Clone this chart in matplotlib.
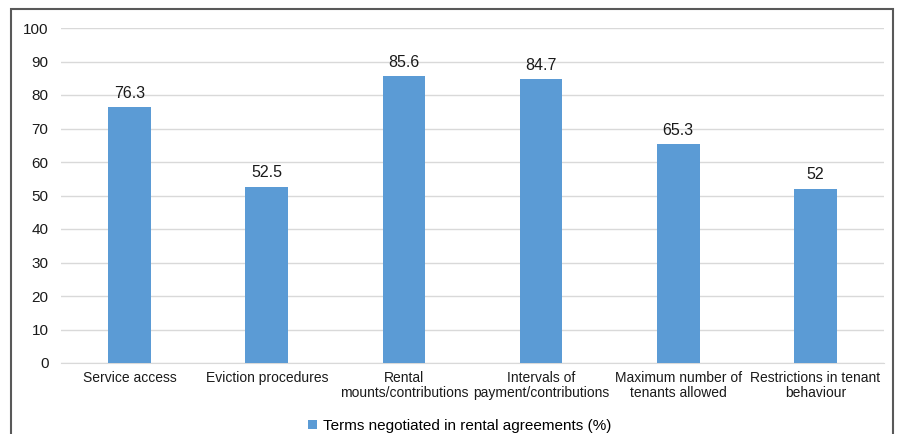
import matplotlib.pyplot as plt
from matplotlib.patches import Rectangle

plt.rcParams['font.family'] = ['Liberation Sans', 'DejaVu Sans']

categories = ['Service access', 'Eviction procedures', 'Rental\nmounts/contributions',
              'Intervals of\npayment/contributions', 'Maximum number of\ntenants allowed',
              'Restrictions in tenant\nbehaviour']
values = [76.3, 52.5, 85.6, 84.7, 65.3, 52]
labels = ['76.3', '52.5', '85.6', '84.7', '65.3', '52']
series_name = 'Terms negotiated in rental agreements (%)'

fig = plt.figure(figsize=(9.01, 4.34), dpi=100)
ax = fig.add_axes([61/901, 1-363/434, (884-61)/901, (363-28)/434])

x = range(len(categories))
bars = ax.bar(x, values, width=0.31, color='#5b9bd5', label=series_name, zorder=3)
for b, t in zip(bars, labels):
    ax.text(b.get_x() + b.get_width()/2, b.get_height() + 2, t,
            ha='center', va='bottom', fontsize=11.5, color='#1a1a1a')

ax.set_xlim(-0.5, len(categories) - 0.5)
ax.set_ylim(0, 100)
ax.set_yticks(range(0, 101, 10))
ax.set_xticks(list(x))
ax.set_xticklabels(categories, fontsize=10, color='#1a1a1a', linespacing=1.1)
ax.tick_params(axis='y', labelsize=11, colors='#1a1a1a', length=0, pad=9)
ax.tick_params(axis='x', length=0, pad=6)
ax.grid(axis='y', color='#d9d9d9', linewidth=1, zorder=0)
for s in ['top', 'right', 'left']:
    ax.spines[s].set_visible(False)
ax.spines['bottom'].set_color('#d9d9d9')

fig.legend(loc='center', bbox_to_anchor=(460/901, 1-426/434), frameon=False,
           fontsize=11, handlelength=0.6, handleheight=0.6, handletextpad=0.4)

fig.patches.append(Rectangle((11/901, -0.05), (893-11)/901, 1.05 - 9/434,
                             transform=fig.transFigure, fill=False,
                             edgecolor='#595959', linewidth=1.5))

fig.savefig('out.png', dpi=100)
